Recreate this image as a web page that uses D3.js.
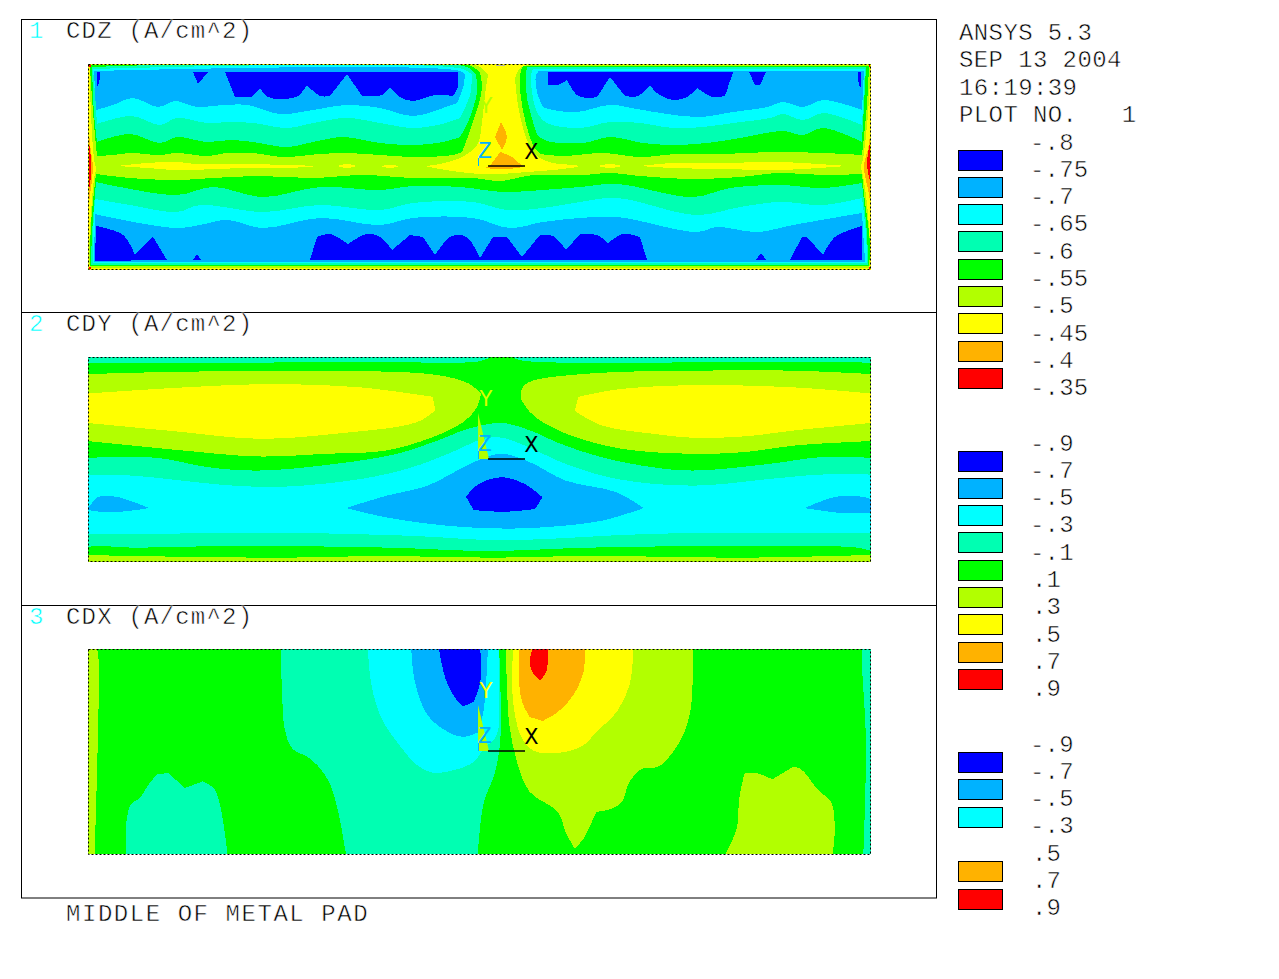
<!DOCTYPE html>
<html><head><meta charset="utf-8">
<script src="https://cdn.jsdelivr.net/npm/d3@7/dist/d3.min.js"></script>
<style>
html,body{margin:0;padding:0;background:#fff}
svg{display:block}
text{font-family:"Liberation Mono",monospace;font-size:24px;white-space:pre}
</style></head><body>
<svg id="c" width="1279" height="979"></svg>
<script>
// ---- band colours, lowest to highest
const bandColors=["#0000ff","#00b2ff","#00ffff","#00ffb2","#00ff00","#b2ff00","#ffff00","#ffb200","#ff0000"];
const [B,L,C,T,G,Y,W,O,R]=[0,1,2,3,4,5,6,7,8];
const GREY="#b0b0b0";
// ---- header / labels
const infoLines=["ANSYS 5.3","SEP 13 2004","16:19:39","PLOT NO.   1"];
const panelTitles=["CDZ (A/cm^2)","CDY (A/cm^2)","CDX (A/cm^2)"];
const footer="MIDDLE OF METAL PAD";
// ---- legends
const cdzTicks=["-.8","-.75","-.7","-.65","-.6","-.55","-.5","-.45","-.4","-.35"];
const cdyTicks=["-.9","-.7","-.5","-.3","-.1",".1",".3",".5",".7",".9"];
const cdxTicks=["-.9","-.7","-.5","-.3",".5",".7",".9"];
const cdxSwatches=[B,L,C,null,O,R];

// ---- CDZ iso-regions, nested low over high; coordinates in panel units 0..783 x 0..205
const cdzEdgeOrangeMid=[[0,48],[2,80],[5,105],[2,130],[0,151]];
const cdzEdgeRedMid=[[0,71],[3.5,105],[0,131]];
const cdzEdgeOrangeMidR=[[783,48],[781,80],[776,103],[781,130],[783,151]];
const cdzEdgeRedMidR=[[783,74],[779,100],[783,121]];
const cdzTopOrange=[[378,0],[447,0],[425,6],[412,8],[398,6]];
const cdzTopRed=[[387,0],[440,0],[420,5],[412,6],[402,5]];
const cdzTopGrey=[[404,0],[421,0],[413,2.5]];
const cdzRing=[[1.5,.7],[781.5,.7],[782,3],[780,50],[775,95],[773,103],[775,112],[780,150],[782,200],[781,203.5],[3,203.5],[1.5,201],[3,150],[6,115],[8,105],[6,95],[3,50]];
const cdzYellowCol=[[380,0],[392,3],[400,11],[397,31],[394,58],[389,81],[372,94],[352,100],[337,102],[352,105],[372,108],[392,110],[412,110],[439,108],[465,106],[490,103],[489,101],[465,99],[452,94],[442,83],[435,64],[429,34],[428,11],[434,3],[445,0]];
const cdzYellowL=[[29,102],[59,99],[89,98],[109,100],[159,100],[232,102],[199,104],[159,104],[89,106],[59,104]];
const cdzYellowA=[[249,102],[259,100],[269,102],[259,104]];
const cdzYellowB=[[292,102],[302,101],[312,102],[302,104]];
const cdzYellowC=[[510,102],[522,100],[534,102],[522,104]];
const cdzYellowR=[[552,102],[585,99],[635,99],[692,98],[759,102],[692,106],[635,105],[585,104]];
const cdzDrop=[[413,58],[419,73],[414,86],[407,73]];
const cdzBell=[[400,103],[412,88],[424,93],[435,103],[419,105],[394,104]];

const cdzGreenTL=[[2,1.5],[382,1.5],[392,9],[394,24],[385,58],[374,88],[365,91],[325,93],[292,91],[259,89],[232,90],[195,93],[165,89],[139,89],[119,92],[89,89],[72,91],[42,89],[25,91],[9,92],[6,60],[3,20]];
const cdzTealTL=[[4,3],[379,3],[388,11],[389,28],[380,58],[372,73],[355,78],[325,81],[292,79],[255,73],[225,78],[199,83],[165,78],[142,76],[119,78],[89,73],[72,79],[42,70],[9,78],[6,50]];
const cdzCyanTL=[[5,5],[375,5],[384,11],[382,31],[372,54],[354,60],[325,64],[292,59],[259,54],[225,59],[199,64],[165,59],[142,58],[119,59],[89,54],[72,61],[44,52],[9,60],[7,30]];
const cdzLbTL=[[6,7],[372,7],[377,11],[375,24],[369,39],[355,44],[325,52],[292,44],[259,41],[225,46],[192,50],[159,41],[135,41],[109,43],[87,37],[70,43],[45,34],[25,41],[8,46]];
const cdzBlueTL=[[137,8],[370,8],[370,23],[365,32],[347,31],[325,37],[312,33],[302,23],[294,31],[274,32],[259,10],[242,32],[232,32],[219,21],[210,32],[195,35],[180,33],[172,24],[164,33],[147,33]];
const cdzBlueTL2=[[105,8],[120,8],[110,20]];
const cdzBlueTL3=[[9,8],[12,8],[11,19],[9,23]];

const cdzGreenTR=[[781,1.5],[435,1.5],[432,11],[434,41],[445,81],[452,90],[475,92],[515,89],[552,93],[589,90],[635,90],[685,88],[735,89],[774,91],[779,40]];
const cdzTealTR=[[439,3],[438,11],[439,34],[449,71],[459,77],[495,79],[522,73],[555,79],[585,81],[619,79],[652,74],[695,67],[715,71],[735,64],[774,78],[778,3]];
const cdzCyanTR=[[445,5],[443,11],[444,28],[449,48],[459,59],[492,64],[522,58],[552,59],[585,64],[615,63],[645,59],[682,54],[695,50],[715,56],[735,49],[774,61],[777,5]];
const cdzLbTR=[[451,7],[448,11],[449,28],[455,43],[465,46],[489,48],[522,41],[549,45],[579,50],[612,53],[645,48],[679,43],[695,38],[715,43],[735,36],[774,46],[776,7]];
const cdzBlueTR=[[460,8],[645,8],[637,32],[625,33],[609,24],[599,33],[585,36],[569,29],[562,21],[550,32],[537,32],[522,13],[509,33],[499,34],[489,31],[479,16],[470,21],[460,21]];
const cdzBlueTR2=[[661,8],[678,8],[672,21],[667,21]];
const cdzBlueTR3=[[770,8],[773,8],[773,24],[771,21]];

const cdzGreenB=[[8,110],[42,114],[89,116],[125,114],[172,112],[225,114],[275,111],[325,114],[385,114],[412,117],[445,111],[495,111],[522,109],[552,112],[605,115],[652,113],[692,109],[735,111],[774,110],[776,130],[782,180],[781,202],[2,202],[3,160]];
const cdzTealB=[[8,118],[32,123],[89,131],[125,123],[175,133],[232,123],[292,126],[325,122],[372,123],[415,128],[455,126],[492,123],[529,120],[605,133],[642,124],[692,121],[735,124],[774,119],[779,170],[780,201],[3,201],[4,170]];
const cdzCyanB=[[7,135],[42,141],[89,148],[112,141],[175,148],[232,141],[292,146],[325,139],[385,138],[419,146],[455,144],[492,138],[529,134],[609,151],[652,143],[692,138],[735,141],[774,134],[778,170],[779,199],[5,199],[5,170]];
const cdzLbB=[[7,150],[25,154],[89,164],[112,161],[139,156],[175,164],[232,154],[292,161],[325,154],[385,154],[422,164],[455,158],[492,154],[529,153],[609,168],[629,163],[669,168],[705,161],[774,149],[777,197.5],[6,197.5]];
const cdzBlueB1=[[8,162],[35,171],[47,191],[65,173],[79,196],[7,197]];
const cdzBlueB2=[[105,196],[109,190],[113,196]];
const cdzBlueB3=[[222,196],[229,173],[242,170],[260,180],[279,170],[292,173],[304,186],[322,171],[335,173],[347,191],[362,173],[372,171],[380,174],[392,194],[405,173],[419,173],[434,193],[452,171],[465,172],[478,186],[492,170],[509,171],[520,179],[535,170],[552,173],[559,196]];
const cdzBlueB4=[[668,196],[673,189],[678,196]];
const cdzBlueB5=[[702,196],[714,173],[719,173],[735,191],[747,173],[774,162],[774,196]];

const cdzLayers=[
 [O,cdzEdgeOrangeMid],[R,cdzEdgeRedMid],[O,cdzEdgeOrangeMidR],[R,cdzEdgeRedMidR],
 [O,cdzTopOrange],[R,cdzTopRed],
 [Y,cdzRing],[W,cdzYellowCol],[W,cdzYellowL],[W,cdzYellowA],[W,cdzYellowB],[W,cdzYellowC],[W,cdzYellowR],
 [O,cdzDrop],[O,cdzBell],
 [G,cdzGreenTL],[T,cdzTealTL],[C,cdzCyanTL],[L,cdzLbTL],[B,cdzBlueTL],[B,cdzBlueTL2],[B,cdzBlueTL3],
 [G,cdzGreenTR],[T,cdzTealTR],[C,cdzCyanTR],[L,cdzLbTR],[B,cdzBlueTR],[B,cdzBlueTR2],[B,cdzBlueTR3],
 [G,cdzGreenB],[T,cdzTealB],[C,cdzCyanB],[L,cdzLbB],[B,cdzBlueB1],[B,cdzBlueB2],[B,cdzBlueB3],[B,cdzBlueB4],[B,cdzBlueB5]
];

// ---- CDY iso-regions; coordinates in panel units 15..1548 x 21..633
const cdyTopTealL=[[15,21],[805,21],[790,30],[770,36],[560,36],[300,38],[60,38],[15,38]];
const cdyTopTealR=[[845,21],[1548,21],[1548,38],[1400,35],[1080,38],[900,36],[860,30]];
const cdyBottomYg=[[15,633],[15,612],[100,615],[400,620],[600,615],[800,620],[1000,615],[1300,620],[1548,612],[1548,633]];
const cdyLobeL=[[15,72],[200,65],[550,63],[700,75],[760,100],[785,130],[775,175],[750,215],[690,260],[600,300],[480,310],[350,318],[200,300],[100,285],[15,272]];
const cdyLobeR=[[1548,72],[1400,62],[1200,62],[1000,70],[880,95],[865,115],[862,145],[880,185],[905,215],[960,255],[1060,295],[1200,310],[1300,305],[1400,285],[1548,272]];
const cdyCoreL=[[15,130],[200,112],[370,102],[550,112],[690,140],[695,180],[660,215],[500,250],[350,265],[180,242],[15,218]];
const cdyCoreR=[[1548,130],[1400,112],[1200,105],[1050,118],[975,140],[968,182],[1020,225],[1120,250],[1200,262],[1300,258],[1400,240],[1548,218]];
const cdyTeal=[[15,322],[150,322],[250,350],[350,360],[500,340],[620,310],[700,270],[760,235],[825,218],[880,240],[940,280],[1020,320],[1120,350],[1200,360],[1350,340],[1450,320],[1548,322],[1548,600],[1520,590],[1300,585],[1000,590],[800,600],[600,590],[300,585],[100,590],[25,585],[15,590]];
const cdyCyan=[[15,372],[100,375],[300,405],[400,408],[550,385],[650,350],[720,310],[790,265],[825,262],[870,285],[950,340],[1050,385],[1200,405],[1350,385],[1450,372],[1548,372],[1548,548],[1300,545],[1100,550],[825,568],[650,555],[350,545],[100,550],[15,548]];
const cdyLbMid=[[520,472],[600,435],[680,405],[770,335],[825,310],[880,335],[950,390],[1050,425],[1103,472],[1020,510],[900,530],[825,533],[720,525],[600,500]];
const cdyLbL=[[15,472],[35,438],[70,438],[135,472],[60,485],[15,478]];
const cdyLbR=[[1418,472],[1480,438],[1530,438],[1548,445],[1548,485],[1500,488]];
const cdyBlue=[[755,438],[780,400],[825,380],[870,400],[905,440],[890,475],[830,483],[770,478]];
const cdyLayers=[[T,cdyTopTealL],[T,cdyTopTealR],[Y,cdyBottomYg],[Y,cdyLobeL],[Y,cdyLobeR],[W,cdyCoreL],[W,cdyCoreR],[T,cdyTeal],[C,cdyCyan],[L,cdyLbMid],[L,cdyLbL],[L,cdyLbR],[B,cdyBlue]];

// ---- CDX iso-regions; coordinates in panel units 15..1548 x 21..636
const cdxEdgeL=[[15,21],[33,21],[36,60],[28,636],[15,636]];
const cdxEdgeR=[[1530,21],[1548,21],[1548,636],[1533,636],[1538,300],[1530,60]];
const cdxTeal=[[392,21],[820,21],[822,300],[810,400],[790,480],[778,636],[520,636],[505,510],[490,430],[470,380],[445,345],[415,320],[400,260],[395,150]];
const cdxCyan=[[563,21],[820,21],[820,150],[815,280],[790,320],[770,360],[730,385],[690,392],[660,370],[625,310],[590,230],[570,130]];
const cdxLb=[[648,21],[798,21],[790,200],[780,270],[750,285],[720,270],[680,220],[655,120]];
const cdxBlue=[[702,21],[783,21],[783,120],[770,180],[750,193],[735,170],[715,110]];
const cdxYgMain=[[833,21],[1200,21],[1195,200],[1180,280],[1150,350],[1130,375],[1100,380],[1075,420],[1060,480],[1040,500],[1010,510],[985,590],[968,620],[950,570],[935,510],[880,450],[855,360],[840,250],[835,120]];
const cdxYellow=[[848,21],[1083,21],[1075,130],[1050,210],[1010,270],[985,310],[940,332],[890,328],[865,290],[850,210],[845,100]];
const cdxOrange=[[860,21],[988,21],[985,90],[965,160],[935,210],[905,237],[880,225],[865,180],[858,90]];
const cdxRed=[[885,21],[915,21],[913,85],[900,117],[885,90],[880,60]];
const cdxTealIsland=[[90,636],[90,540],[100,485],[115,470],[135,425],[150,397],[172,393],[205,438],[240,418],[262,440],[275,500],[288,636]];
const cdxYgIsland=[[1263,636],[1285,560],[1290,470],[1300,395],[1320,392],[1355,412],[1395,375],[1410,380],[1445,445],[1470,480],[1477,560],[1473,636]];
const cdxLayers=[[Y,cdxEdgeL],[T,cdxEdgeR],[T,cdxTeal],[C,cdxCyan],[L,cdxLb],[B,cdxBlue],[Y,cdxYgMain],[W,cdxYellow],[O,cdxOrange],[R,cdxRed],[T,cdxTealIsland],[Y,cdxYgIsland]];

// ---- drawing
const svg=d3.select("#c");
const cmap=d3.scaleOrdinal().domain(d3.range(9)).range(bandColors);
const panels=[
 {top:64, xd:[0,783],  yd:[0,205],  base:W, layers:cdzLayers, border:"#ffff00", triadY:"#b2ff00", wedge:false},
 {top:357,xd:[15,1548],yd:[21,633], base:G, layers:cdyLayers, border:"none", triadY:"#d8ff00", wedge:true},
 {top:649,xd:[15,1548],yd:[21,636], base:G, layers:cdxLayers, border:"none", triadY:"#ffff00", wedge:true}
];
const X0=88,X1=871,H=205;
function label(t,x,y,pitch,col,thin=true){
  const s=svg.append("text").text(t).attr("x",x).attr("y",y).attr("fill",col||"#000")
    .style("letter-spacing",(pitch-14.4)+"px");
  if(thin) s.attr("stroke","#fff").attr("stroke-width",.55);
  return s;
}
// keep real corners sharp: a vertex that turns hard is doubled so the spline stops there
function withCorners(pts){
  const n=pts.length,out=[];
  pts.forEach((p,i)=>{
    const a=pts[(i+n-1)%n],b=pts[(i+1)%n];
    const u=[p[0]-a[0],p[1]-a[1]],v=[b[0]-p[0],b[1]-p[1]];
    const ang=Math.abs(Math.atan2(u[0]*v[1]-u[1]*v[0],u[0]*v[0]+u[1]*v[1]));
    out.push(p); if(ang>0.75) out.push(p);
  });
  return out;
}
// frame
svg.append("rect").attr("x",21.5).attr("y",19.5).attr("width",915).attr("height",878.5).attr("fill","none").attr("stroke","#000");
[312.5,605.5].forEach(y=>svg.append("line").attr("x1",22).attr("x2",937).attr("y1",y).attr("y2",y).attr("stroke","#000"));
panels.forEach((p,i)=>{
  const x=d3.scaleLinear().domain(p.xd).range([X0,X1]);
  const y=d3.scaleLinear().domain(p.yd).range([p.top,p.top+H]);
  const line=d3.line().x(d=>d[0]).y(d=>d[1]).curve(d3.curveCatmullRomClosed.alpha(.5));
  const shape=pts=>line(withCorners(pts.map(d=>[x(d[0]),y(d[1])])));
  svg.append("clipPath").attr("id","cp"+i).append("rect").attr("x",X0).attr("y",p.top).attr("width",X1-X0).attr("height",H);
  const g=svg.append("g").attr("clip-path",`url(#cp${i})`).attr("shape-rendering","crispEdges");
  g.append("rect").attr("x",X0).attr("y",p.top).attr("width",X1-X0).attr("height",H).attr("fill",cmap(p.base));
  g.selectAll("path").data(p.layers).join("path").attr("d",d=>shape(d[1])).attr("fill",d=>cmap(d[0]));
  if(i===0){
    g.append("path").attr("d",shape(cdzTopGrey)).attr("fill",GREY);
    [[0,0],[783,0],[0,205],[783,205]].forEach(c=>{
      g.append("rect").attr("x",x(c[0])-2.5).attr("y",y(c[1])-2.5).attr("width",5).attr("height",5).attr("fill","#ff0000");
    });
  }
  // border
  const bh=i===1?204:205;
  if(p.border!=="none") svg.append("rect").attr("x",X0+.5).attr("y",p.top+.5).attr("width",X1-X0-1).attr("height",bh).attr("fill","none").attr("stroke",p.border);
  svg.append("rect").attr("x",X0+.5).attr("y",p.top+.5).attr("width",X1-X0-1).attr("height",bh).attr("fill","none").attr("stroke","#000").attr("stroke-dasharray","2 2");
  // triad
  const t=p.top;
  if(p.wedge) svg.append("path").attr("d",`M478,${t+56}L478,${t+102}L489,${t+102}Z`).attr("fill","#b2ff00");
  svg.append("line").attr("x1",488).attr("x2",525).attr("y1",t+102).attr("y2",t+102).attr("stroke","#000").attr("stroke-width",1.3);
  svg.append("line").attr("x1",478.5).attr("x2",478.5).attr("y1",t+94).attr("y2",t+102).attr("stroke","#00b2ff");
  const glyph=(s,gx,gy,c)=>svg.append("text").text(s).attr("x",gx).attr("y",gy).attr("fill",c).style("font-size","23px");
  glyph("Y",479,t+49,p.triadY);
  glyph("Z",478,t+94,"#00b2ff");
  glyph("X",524.5,t+95,"#000");
  // titles
  const ty=38+i*292.8;
  label(String(i+1),29,ty,15,"#00ffff");
  label(panelTitles[i],66,ty,15.6);
});
label(footer,66,921,15.95);
infoLines.forEach((t,i)=>label(t,959,40+i*27.3,14.8));
// legends
const legend=(ticks,top0)=>ticks.forEach((t,i)=>label(t,t[0]==="-"?1030:1032,top0+i*27.3,14.6));
const swatch=(yy,c)=>svg.append("rect").attr("x",958.5).attr("y",Math.round(yy)+.5).attr("width",44).attr("height",20).attr("fill",c).attr("stroke","#000").attr("stroke-width",1);
legend(cdzTicks,149.5);
d3.range(9).forEach(i=>swatch(149.5+i*27.3,cmap(i)));
legend(cdyTicks,450.5);
d3.range(9).forEach(i=>swatch(450.5+i*27.3,cmap(i)));
legend(cdxTicks,751.5);
cdxSwatches.forEach((c,i)=>{ if(c!==null) swatch(752+i*27.3,cmap(c)); });
</script>
</body></html>
